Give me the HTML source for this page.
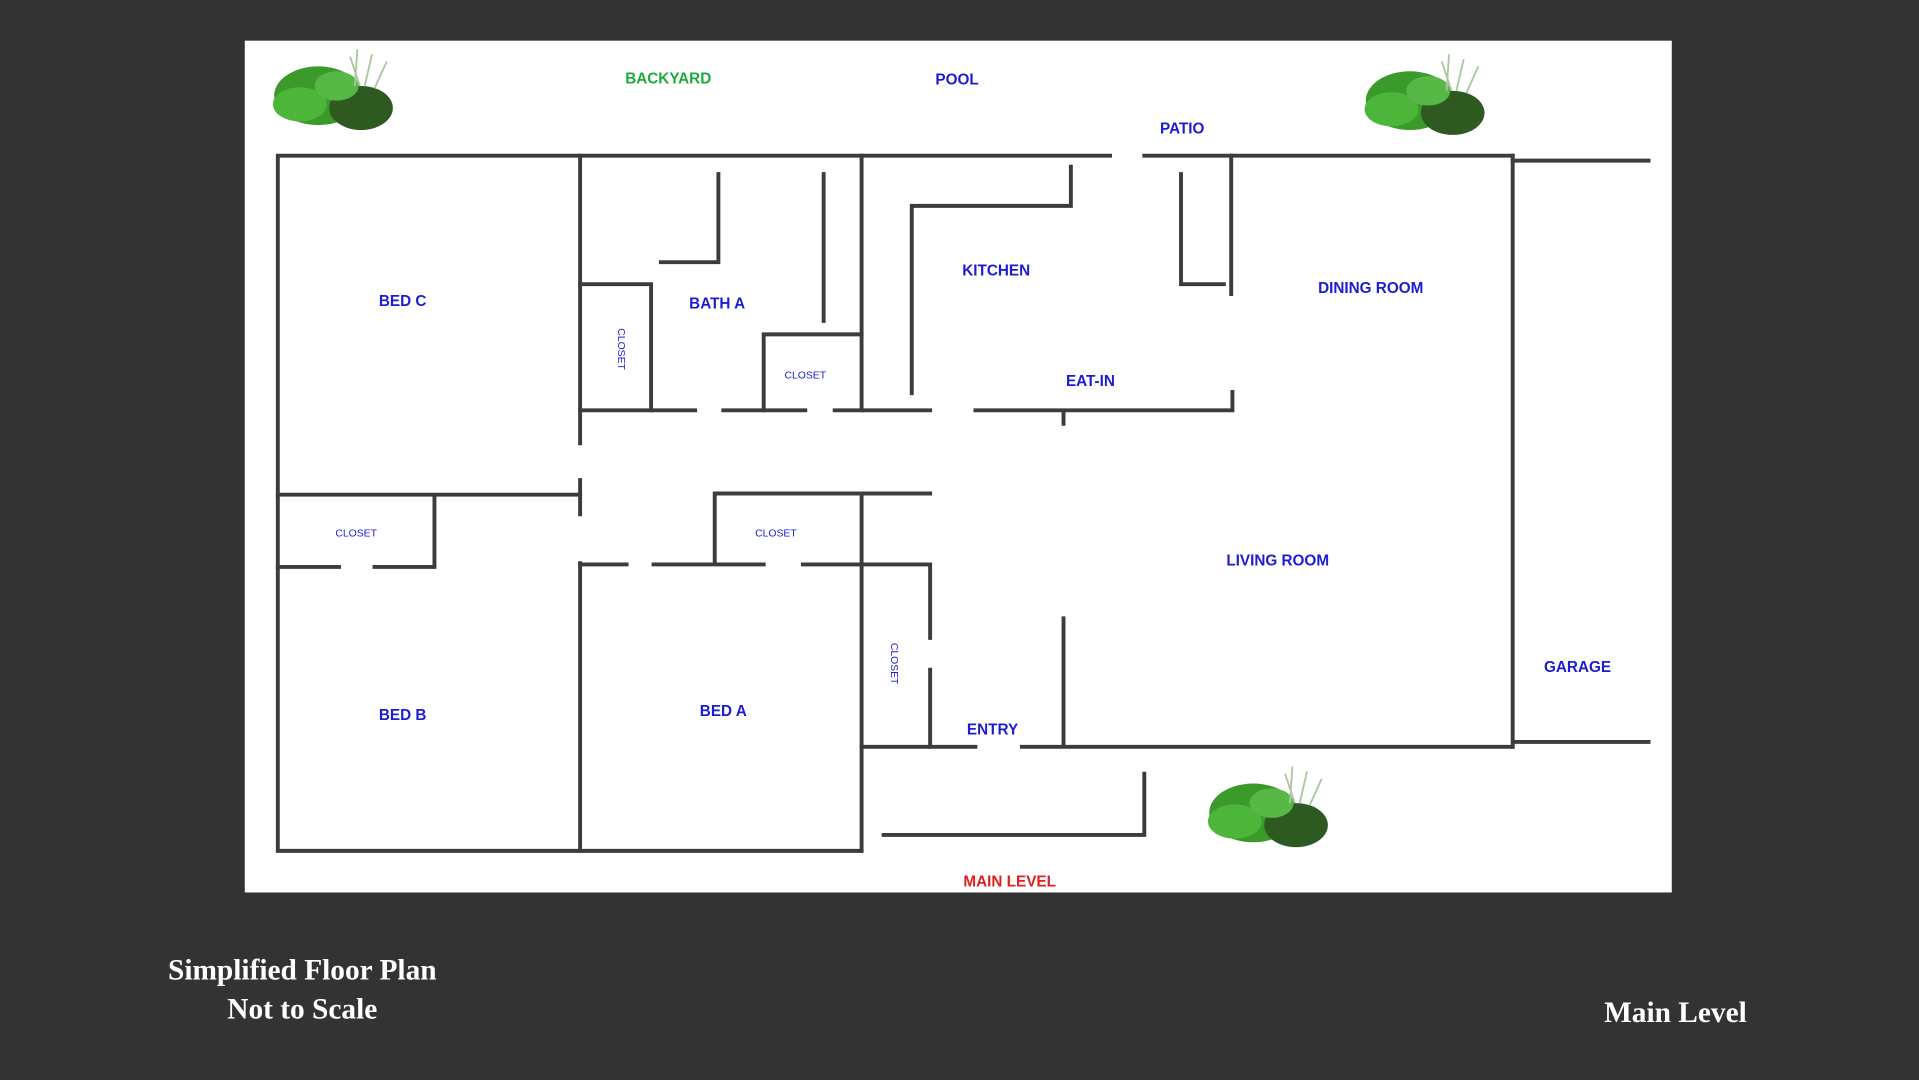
<!DOCTYPE html>
<html><head><style>
html,body{margin:0;padding:0;background:#333333;width:1919px;height:1080px;overflow:hidden}
svg{display:block}
.l{font-family:"Liberation Sans",sans-serif;font-size:12.5px;fill:#1c1cd4;font-weight:bold;text-anchor:middle}
.s{font-family:"Liberation Sans",sans-serif;font-size:8.5px;fill:#1c1cd4;text-anchor:middle}
.t{font-family:"Liberation Serif",serif;font-size:24px;fill:#fff;font-weight:bold;text-anchor:middle}
</style></head><body>
<svg width="1919" height="1080" viewBox="0 0 1568 882" xmlns="http://www.w3.org/2000/svg">
<rect width="1568" height="882" fill="#333333"/>
<rect x="200" y="33" width="1166" height="696" fill="#ffffff"/>
<defs>
<g id="plant">
<ellipse cx="40" cy="38" rx="36" ry="24" fill="#3a9a2a"/>
<ellipse cx="25" cy="45" rx="22" ry="14" fill="#4db53a"/>
<ellipse cx="75" cy="48" rx="26" ry="18" fill="#2e5a22"/>
<ellipse cx="55" cy="30" rx="18" ry="12" fill="#58b845"/>
<path d="M70 30 L72 0 M78 30 L84 4 M86 32 L96 10 M74 30 L66 6" stroke="#a9c7a0" stroke-width="1.5" fill="none"/>
</g>
</defs>
<use href="#plant" x="220" y="40"/>
<use href="#plant" x="1112" y="44"/>
<use href="#plant" x="984" y="626"/>
<g stroke="#3c3c3c" stroke-width="3.2" fill="none" stroke-linecap="square">
<path d="M227 127H907 M935 127H1236 M1236 131H1347 M227 127V695 M227 695H704"/>
<path d="M704 127V335 M704 403V695"/>
<path d="M474 127V362 M474 392V420 M474 460V695"/>
<path d="M227 404H474 M355 404V463 M227 463H277 M306 463H355"/>
<path d="M474 335H568 M591 335H658 M682 335H760 M797 335H1007 M1007 320V335 M869 335V346"/>
<path d="M474 232H532 M532 232V335"/>
<path d="M587 142V214 M540 214H587 M673 142V262"/>
<path d="M624 273V335 M624 273H704"/>
<path d="M745 168H875 M875 136V168 M745 168V321"/>
<path d="M965 142V232 M965 232H1000 M1006 127V240"/>
<path d="M1236 127V610 M1236 606H1347"/>
<path d="M704 610H797 M835 610H1236 M869 505V610"/>
<path d="M584 403H760 M584 403V460"/>
<path d="M474 461H512 M534 461H624 M656 461H760 M760 461V521 M760 547V610"/>
<path d="M722 682H935 M935 632V682"/>
</g>
<text x="546" y="68" class="l" style="fill:#1eaa3a">BACKYARD</text>
<text x="782" y="69" class="l">POOL</text>
<text x="966" y="109" class="l">PATIO</text>
<text x="329" y="250" class="l">BED C</text>
<text x="586" y="252" class="l">BATH A</text>
<text x="814" y="225" class="l">KITCHEN</text>
<text x="1120" y="239" class="l">DINING ROOM</text>
<text x="891" y="315" class="l">EAT-IN</text>
<text x="658" y="309" class="s">CLOSET</text>
<text x="291" y="438" class="s">CLOSET</text>
<text x="634" y="438" class="s">CLOSET</text>
<text x="505" y="285" class="s" transform="rotate(90 505 285)">CLOSET</text>
<text x="728" y="542" class="s" transform="rotate(90 728 542)">CLOSET</text>
<text x="1044" y="462" class="l">LIVING ROOM</text>
<text x="1289" y="549" class="l">GARAGE</text>
<text x="329" y="588" class="l">BED B</text>
<text x="591" y="585" class="l">BED A</text>
<text x="811" y="600" class="l">ENTRY</text>
<text x="825" y="724" class="l" style="fill:#e02020">MAIN LEVEL</text>
<text x="247" y="800" class="t">Simplified Floor Plan</text>
<text x="247" y="832" class="t">Not to Scale</text>
<text x="1369" y="835" class="t">Main Level</text>
</svg>
</body></html>
